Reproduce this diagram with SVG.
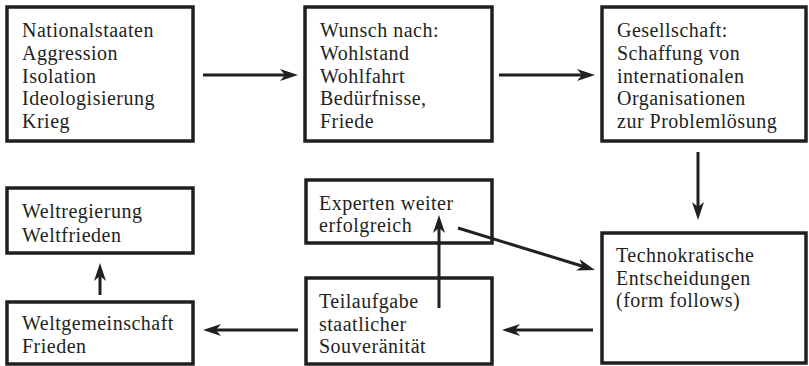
<svg xmlns="http://www.w3.org/2000/svg" width="809" height="366" viewBox="0 0 809 366">
<style>
.box{fill:#fff;stroke:#231f20;stroke-width:3.5}
.t{font-family:"Liberation Serif",serif;font-size:20px;fill:#231f20;letter-spacing:0.5px}
.c line{stroke:#231f20;stroke-width:3;marker-end:url(#ah)}
</style>
<defs>
<marker id="ah" viewBox="0 0 18 12" refX="6" refY="6" markerWidth="18" markerHeight="12" markerUnits="userSpaceOnUse" orient="auto">
<path d="M0,0 L18,6 L0,12 L5,6 z" fill="#231f20"/>
</marker>
</defs>
<rect width="809" height="366" fill="#fff"/>
<g id="n1"><rect class="box" x="7" y="7" width="186" height="134"/>
<text class="t" x="22" y="37">Nationalstaaten</text><text class="t" x="22" y="60">Aggression</text><text class="t" x="22" y="83">Isolation</text><text class="t" x="22" y="105">Ideologisierung</text><text class="t" x="22" y="128">Krieg</text></g>
<g id="n2"><rect class="box" x="305" y="7" width="187" height="134"/>
<text class="t" x="320" y="37">Wunsch nach:</text><text class="t" x="320" y="60">Wohlstand</text><text class="t" x="320" y="83">Wohlfahrt</text><text class="t" x="320" y="105">Bedürfnisse,</text><text class="t" x="320" y="128">Friede</text></g>
<g id="n3"><rect class="box" x="602" y="7" width="204" height="134"/>
<text class="t" x="617" y="37">Gesellschaft:</text><text class="t" x="617" y="60">Schaffung von</text><text class="t" x="617" y="83">internationalen</text><text class="t" x="617" y="105">Organisationen</text><text class="t" x="617" y="128">zur Problemlösung</text></g>
<g id="n4"><rect class="box" x="602" y="233" width="204" height="130"/>
<text class="t" x="616" y="262">Technokratische</text><text class="t" x="616" y="285">Entscheidungen</text><text class="t" x="616" y="307">(form follows)</text></g>
<g id="n5"><rect class="box" x="306" y="180" width="186" height="63"/>
<text class="t" x="319" y="210">Experten weiter</text><text class="t" x="319" y="232">erfolgreich</text></g>
<g id="n6"><rect class="box" x="306" y="278" width="186" height="86"/>
<text class="t" x="319" y="308">Teilaufgabe</text><text class="t" x="319" y="331">staatlicher</text><text class="t" x="319" y="353">Souveränität</text></g>
<g id="n7"><rect class="box" x="7" y="188" width="186" height="65"/>
<text class="t" x="22" y="218">Weltregierung</text><text class="t" x="22" y="242">Weltfrieden</text></g>
<g id="n8"><rect class="box" x="7" y="302" width="186" height="62"/>
<text class="t" x="22" y="330">Weltgemeinschaft</text><text class="t" x="22" y="353">Frieden</text></g>
<g id="connectors" class="c">
<line x1="203" y1="75" x2="286" y2="75"/>
<line x1="499" y1="75" x2="583" y2="75"/>
<line x1="698" y1="152" x2="698" y2="208"/>
<line x1="100" y1="295" x2="100" y2="275"/>
<line x1="298" y1="330" x2="215" y2="330"/>
<line x1="439" y1="308" x2="439" y2="227"/>
<line x1="458" y1="228" x2="583.5" y2="266.5"/>
<line x1="593" y1="330" x2="514" y2="330"/>
</g>
</svg>
